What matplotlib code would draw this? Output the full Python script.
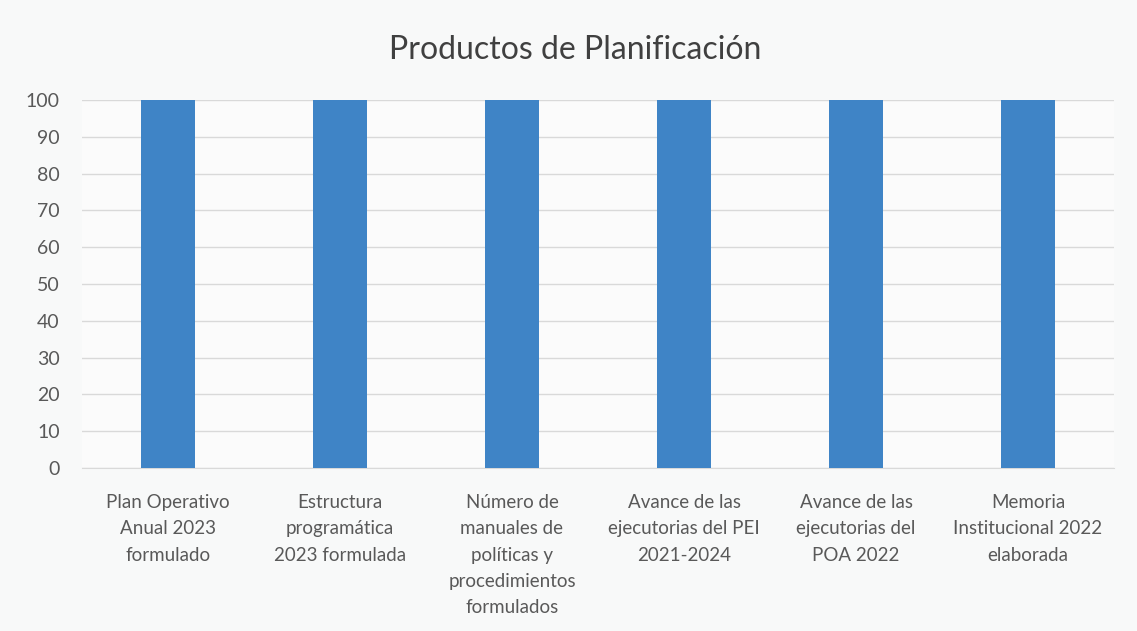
import matplotlib
matplotlib.use("Agg")
from matplotlib import pyplot as plt

# data
categories = [
    "Plan Operativo\nAnual 2023\nformulado",
    "Estructura\nprogramática\n2023 formulada",
    "Número de\nmanuales de\npolíticas y\nprocedimientos\nformulados",
    "Avance de las\nejecutorias del PEI\n2021-2024",
    "Avance de las\nejecutorias del\nPOA 2022",
    "Memoria\nInstitucional 2022\nelaborada",
]
values = [100, 100, 100, 100, 100, 100]
y_ticks = list(range(0, 101, 10))

plt.rcParams["font.family"] = ["Lato", "DejaVu Sans"]

text_color = "#595959"
bar_color = "#3f84c6"

fig = plt.figure(figsize=(11.37, 6.31), dpi=100)
fig.patch.set_facecolor("#f8f9f9")
ax = fig.add_axes([82 / 1137, 1 - 468 / 631, 1032 / 1137, 368 / 631])
ax.set_facecolor("#fbfbfb")

x = range(len(categories))
ax.bar(x, values, width=0.31, color=bar_color, zorder=3)

ax.set_xlim(-0.5, len(categories) - 0.5)
ax.set_ylim(0, 100)
ax.set_yticks(y_ticks)
ax.set_xticks(list(x))
ax.set_xticklabels(categories, fontsize=13.5, color=text_color, linespacing=1.65)
ax.tick_params(axis="y", labelsize=14, labelcolor=text_color, length=0, pad=16)
ax.tick_params(axis="x", length=0, pad=19)
ax.grid(axis="y", color="#d9d9d9", linewidth=1, zorder=0)

for side in ["top", "right", "left"]:
    ax.spines[side].set_visible(False)
ax.spines["bottom"].set_color("#d9d9d9")

fig.text(575 / 1137, 1 - 50 / 631, "Productos de Planificación",
         ha="center", va="center", fontsize=23, color="#404040")

fig.savefig("out.png", dpi=100, facecolor=fig.get_facecolor())
